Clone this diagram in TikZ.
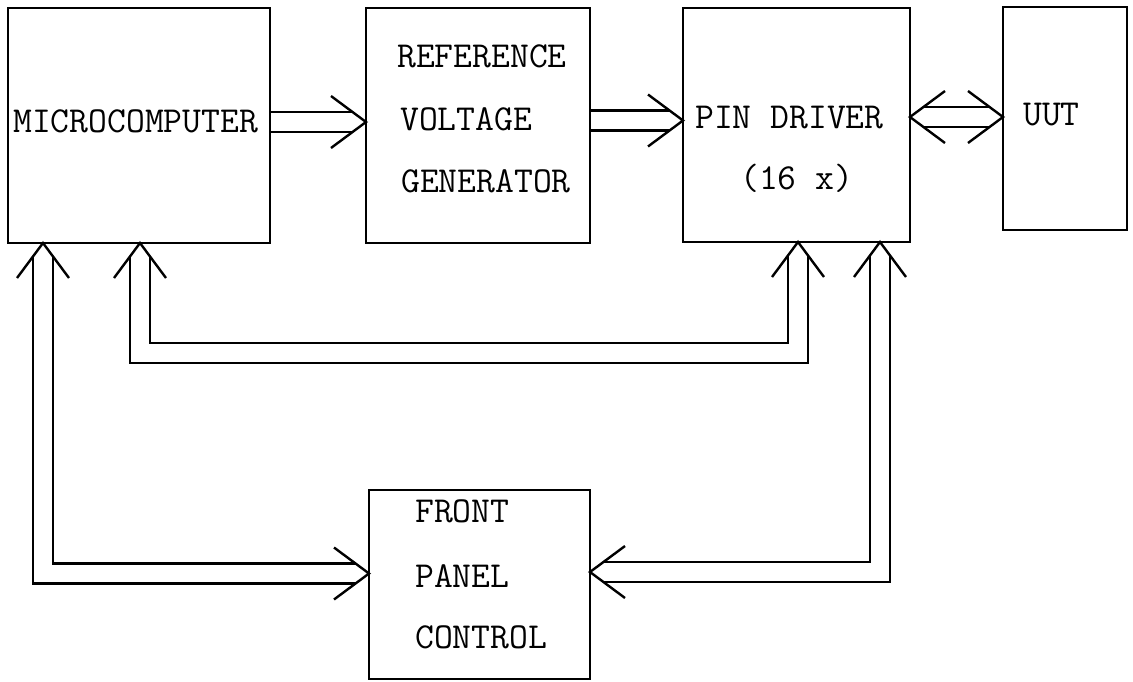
\documentclass[tikz,border=0pt]{standalone}
\usepackage{fontspec}
\usepackage{tikz}
\usetikzlibrary{positioning,calc}

\tikzset{
  blk/.style={draw, line width=2.4pt, inner sep=0pt, outer sep=0pt},
  lbl/.style={font=\ttfamily\fontsize{36.6pt}{44pt}\selectfont, inner sep=0pt, anchor=base west},
  bus/.style={double, double distance=17.5pt, line width=2.4pt, line join=miter},
  chev/.pic={\draw[line width=2.4pt, line join=miter] (-35,26) -- (0,0) -- (-35,-26);}
}

\begin{document}
\begin{tikzpicture}[x=1pt, y=-1pt]
\useasboundingbox (0,0) rectangle (1133,681);

% Blocks
\node[blk, minimum width=262pt, minimum height=235pt] (micro) at (139,125.5) {};
\node[blk, minimum width=224pt, minimum height=235pt] (ref) at (478,125.5) {};
\node[blk, minimum width=227pt, minimum height=234pt] (pin) at (796.5,125) {};
\node[blk, minimum width=124pt, minimum height=223pt] (uut) at (1065,118.5) {};
\node[blk, minimum width=221pt, minimum height=189pt] (front) at (479.5,584.5) {};

% Labels
\node[lbl] (microtxt) at (13,132) {MICROCOMPUTER};
\node[lbl] (reftxt1) at (397,67) {REFERENCE};
\node[lbl] (reftxt2) at (400,130) {VOLTAGE};
\node[lbl] (reftxt3) at (401,192) {GENERATOR};
\node[lbl] (pintxt1) at (695,128) {PIN DRIVER};
\node[lbl] (pintxt2) at (740,189) {(16 x)};
\node[lbl] (uuttxt) at (1023,125) {UUT};
\node[lbl] (fronttxt1) at (415,522) {FRONT};
\node[lbl] (fronttxt2) at (415,587) {PANEL};
\node[lbl] (fronttxt3) at (415,648) {CONTROL};

% Tip points
\coordinate (refin) at ([yshift=3.5pt]ref.west);
\coordinate (pinin) at ([yshift=4.5pt]pin.west);
\coordinate (uutin) at ([yshift=1.5pt]uut.west);
\coordinate (pinout) at (pin.east |- uutin);
\coordinate (microa) at ([xshift=35pt]micro.south west);
\coordinate (microb) at ([xshift=132pt]micro.south west);
\coordinate (pinb) at ([xshift=115pt]pin.south west);
\coordinate (pinc) at ([xshift=197pt]pin.south west);
\coordinate (fronta) at ([yshift=11pt]front.west);
\coordinate (frontc) at ([yshift=12.5pt]front.east);

% Buses
\draw[bus, shorten <=1.2pt, shorten >=13pt] (micro.east |- refin) -- (refin);
\draw[bus, shorten <=1.2pt, shorten >=13pt] (ref.east |- pinin) -- (pinin);
\draw[bus, shorten <=13pt, shorten >=13pt] (pinout) -- (uutin);
\draw[bus, shorten <=13pt, shorten >=13pt] (microa) |- (fronta);
\draw[bus, shorten <=13pt, shorten >=13pt] (microb) -- ++(0,110) -| (pinb);
\draw[bus, shorten <=13pt, shorten >=13pt] (pinc) |- (frontc);

% Arrow heads
\pic at (refin) {chev};
\pic at (pinin) {chev};
\pic at (uutin) {chev};
\pic[rotate=180] at (pinout) {chev};
\pic[rotate=90] at (microa) {chev};
\pic at (fronta) {chev};
\pic[rotate=90] at (microb) {chev};
\pic[rotate=90] at (pinb) {chev};
\pic[rotate=90] at (pinc) {chev};
\pic[rotate=180] at (frontc) {chev};

\end{tikzpicture}
\end{document}
